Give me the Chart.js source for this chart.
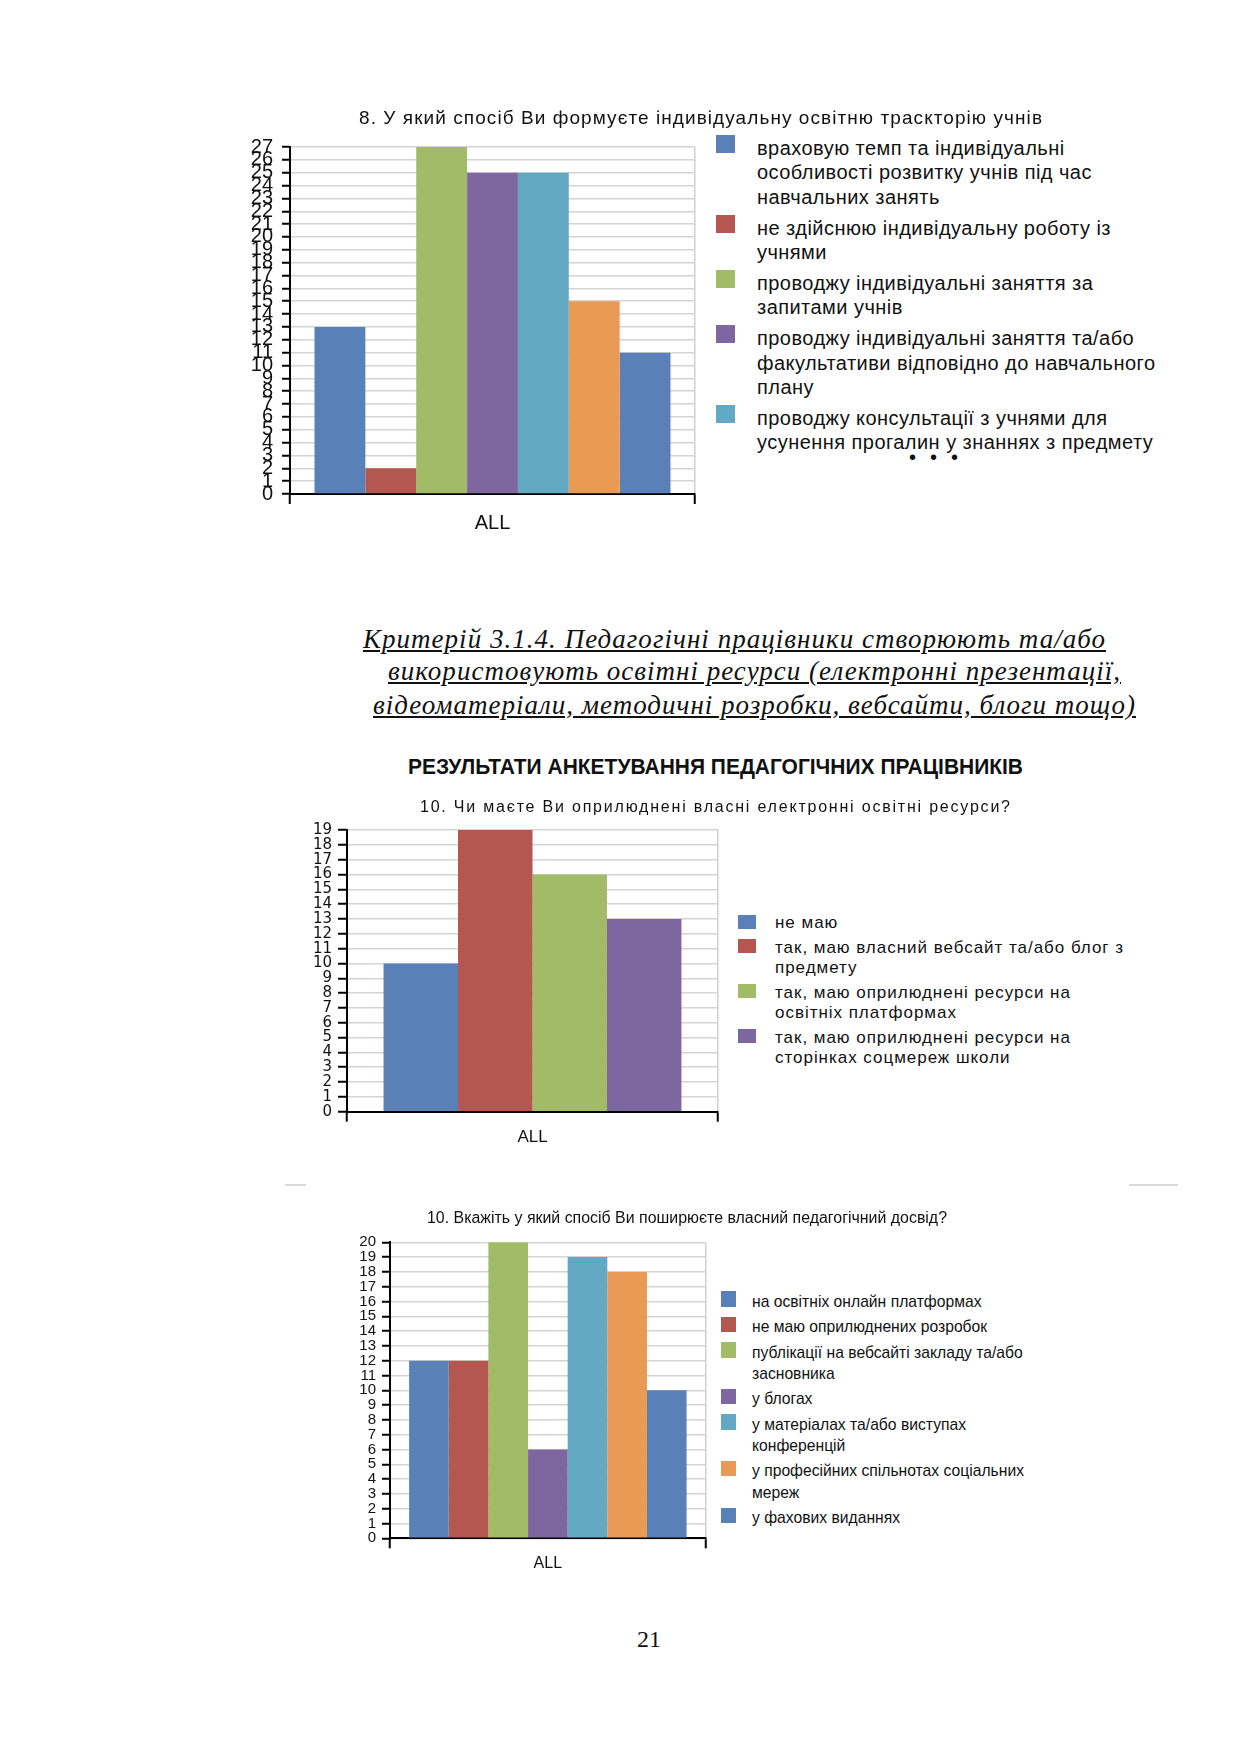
<!DOCTYPE html>
<html lang="uk">
<head>
<meta charset="utf-8">
<title>Результати анкетування педагогічних працівників</title>
<script src="https://cdn.jsdelivr.net/npm/chart.js@4.4.1/dist/chart.umd.min.js"></script>
<style>
  html, body { margin: 0; padding: 0; background: #fff; }
  #page { position: relative; width: 1240px; height: 1754px; overflow: hidden; color: #111; }
  canvas { position: absolute; }
  .t { position: absolute; white-space: nowrap; transform-origin: 0 50%; }
  .sq { position: absolute; }
  .sep { position: absolute; height: 2px; background: #dadada; }
</style>
</head>
<body>
<div id="page">
  <canvas id="c8" width="520" height="414" style="left:190px;top:126px"></canvas>
  <canvas id="c10a" width="486" height="342" style="left:247px;top:810px"></canvas>
  <canvas id="c10b" width="430" height="357" style="left:290px;top:1222px"></canvas>
  <div class="sep" style="left:285px;top:1184px;width:21px"></div>
  <div class="sep" style="left:1129px;top:1184px;width:49px"></div>
</div>
<script>
// colours of the Excel-style palette
var blue = "#5a80b8", red = "#b45750", green = "#a2bb66",
    purple = "#7e66a0", cyan = "#64a9c3", orange = "#e99b55";

var categories = ["ALL"];

// 8. individual learning path
var q8Title = "8. У який спосіб Ви формуєте індивідуальну освітню траскторію учнів";
var q8Labels = [
  "враховую темп та індивідуальні\nособливості розвитку учнів під час\nнавчальних занять",
  "не здійснюю індивідуальну роботу із\nучнями",
  "проводжу індивідуальні заняття за\nзапитами учнів",
  "проводжу індивідуальні заняття та/або\nфакультативи відповідно до навчального\nплану",
  "проводжу консультації з учнями для\nусунення прогалин у знаннях з предмету",
  "",
  ""
];
var q8Values = [13, 2, 27, 25, 25, 15, 11];
var q8Colors = [blue, red, green, purple, cyan, orange, blue];
var q8Max = 27;

// 10. own published e-resources
var q10aTitle = "10. Чи маєте Ви оприлюднені власні електронні освітні ресурси?";
var q10aLabels = [
  "не маю",
  "так, маю власний вебсайт та/або блог з\nпредмету",
  "так, маю оприлюднені ресурси на\nосвітніх платформах",
  "так, маю оприлюднені ресурси на\nсторінках соцмереж школи"
];
var q10aValues = [10, 19, 16, 13];
var q10aColors = [blue, red, green, purple];
var q10aMax = 19;

// 10. sharing experience
var q10bTitle = "10. Вкажіть у який спосіб Ви поширюєте власний педагогічний досвід?";
var q10bLabels = [
  "на освітніх онлайн платформах",
  "не маю оприлюднених розробок",
  "публікації на вебсайті закладу та/або\nзасновника",
  "у блогах",
  "у матеріалах та/або виступах\nконференцій",
  "у професійних спільнотах соціальних\nмереж",
  "у фахових виданнях"
];
var q10bValues = [12, 12, 20, 6, 19, 18, 10];
var q10bColors = [blue, red, green, purple, cyan, orange, blue];
var q10bMax = 20;

var headingLines = [
  "Критерій 3.1.4. Педагогічні працівники створюють та/або",
  "використовують освітні ресурси (електронні презентації,",
  "відеоматеріали, методичні розробки, вебсайти, блоги тощо)"
];
var surveyHeading = "РЕЗУЛЬТАТИ АНКЕТУВАННЯ ПЕДАГОГІЧНИХ ПРАЦІВНИКІВ";
var pageNumber = "21";

Chart.defaults.font.family = "Arial, 'Liberation Sans', sans-serif";
Chart.defaults.color = "#111";

var page = document.getElementById("page");
var mctx = document.createElement("canvas").getContext("2d");

function measure(str, font) {
  mctx.font = font;
  return mctx.measureText(str).width;
}

// how much to space or squeeze a line so it takes width w
function fitTo(str, font, w, mode) {
  var nat = measure(str, font);
  if (mode === "scale") return { sx: w / nat };
  return { ls: (w - nat) / Math.max(1, str.length - 1) };
}

function addText(str, x, cy, font, fit, extra) {
  var el = document.createElement("div");
  el.className = "t";
  el.textContent = str;
  el.style.font = font;
  el.style.lineHeight = "1.2";
  if (fit && fit.ls) el.style.letterSpacing = fit.ls + "px";
  if (fit && fit.sx) el.style.transform = "scaleX(" + fit.sx + ")";
  if (extra) Object.assign(el.style, extra);
  page.appendChild(el);
  var h = el.getBoundingClientRect().height;
  el.style.left = x + "px";
  el.style.top = (cy - h / 2) + "px";
  return el;
}

function addLegend(labels, colors, L) {
  var fit = fitTo(L.ref, L.font, L.refW, L.mode);
  var y = L.y0;
  labels.forEach(function (lab, i) {
    if (!lab) return;
    var sq = document.createElement("div");
    sq.className = "sq";
    sq.style.left = L.sqX + "px";
    sq.style.top = (y + L.sqDy) + "px";
    sq.style.width = L.sqW + "px";
    sq.style.height = L.sqH + "px";
    sq.style.background = colors[i];
    page.appendChild(sq);
    var lines = lab.split("\n");
    lines.forEach(function (ln, j) {
      addText(ln, L.textX, y + j * L.lineH, L.font, fit, { color: "#111" });
    });
    y += lines.length * L.lineH + L.gap;
  });
}

function barChart(id, labels, values, colors, yMax, o) {
  return new Chart(document.getElementById(id), {
    type: "bar",
    data: {
      labels: categories,
      datasets: values.map(function (v, i) {
        return {
          label: labels[i],
          data: [v],
          backgroundColor: colors[i],
          borderWidth: 0,
          barPercentage: 1,
          categoryPercentage: o.cat
        };
      })
    },
    options: {
      responsive: false,
      animation: false,
      events: [],
      layout: { padding: { top: o.padTop, right: o.padRight, bottom: 0, left: 0 } },
      plugins: { legend: { display: false }, tooltip: { enabled: false } },
      scales: {
        x: {
          grid: { color: "#cfcfcf", lineWidth: 1.5, tickColor: "#000", tickWidth: 2, tickLength: 10 },
          border: { color: "#000", width: 2 },
          ticks: { color: "#111", font: { size: o.xFont }, padding: o.xPad },
          afterFit: function (s) { s.height = o.xH; }
        },
        y: {
          min: 0,
          max: yMax,
          grid: { color: "#d4d4d4", lineWidth: 1.5, tickColor: "#000", tickWidth: 2, tickLength: o.tickLen },
          border: { color: "#000", width: 2 },
          ticks: {
            stepSize: 1, autoSkip: false, color: "#111", padding: o.yPad,
            font: { size: o.yFont, family: o.yFamily || Chart.defaults.font.family }
          },
          afterFit: function (s) { s.width = 100; }
        }
      }
    }
  });
}

// ---- text of the page ----
var serif = "'Liberation Serif', 'Times New Roman', serif";
var hFont = "italic 27px " + serif;
[[363, 639, 742], [388, 671, 732], [373, 705, 762]].forEach(function (p, i) {
  addText(headingLines[i], p[0], p[1], hFont, fitTo(headingLines[i], hFont, p[2], "space"),
    { textDecoration: "underline", color: "#111" });
});
var sFont = "bold 22px Arial, 'Liberation Sans', sans-serif";
addText(surveyHeading, 408, 767, sFont, fitTo(surveyHeading, sFont, 615, "scale"), { color: "#111" });
addText(pageNumber, 637, 1639, "24px " + serif, null, { color: "#111" });

var f19 = "19px Arial, 'Liberation Sans', sans-serif";
addText(q8Title, 359, 118, f19, fitTo(q8Title, f19, 683, "space"));
var f16 = "16px Arial, 'Liberation Sans', sans-serif";
addText(q10aTitle, 420, 807, f16, fitTo(q10aTitle, f16, 590, "space"));
addText(q10bTitle, 427, 1218, f16, fitTo(q10bTitle, f16, 520, "scale"));

// ---- legends ----
addLegend(q8Labels, q8Colors, {
  sqX: 716, sqW: 19, sqH: 18, sqDy: -13, textX: 757, y0: 148, lineH: 24.3, gap: 6.7,
  font: "20px Arial, 'Liberation Sans', sans-serif", mode: "space",
  ref: "факультативи відповідно до навчального", refW: 398
});
var dotFont = "20px Arial, 'Liberation Sans', sans-serif";
addText("• • •", 909, 457, dotFont, fitTo("• • •", dotFont, 49, "space"));

addLegend(q10aLabels, q10aColors, {
  sqX: 738, sqW: 18, sqH: 14, sqDy: -9, textX: 775, y0: 923.5, lineH: 20.3, gap: 4.4,
  font: "17px Arial, 'Liberation Sans', sans-serif", mode: "space",
  ref: "так, маю власний вебсайт та/або блог з", refW: 348
});

addLegend(q10bLabels, q10bColors, {
  sqX: 721, sqW: 15, sqH: 15.5, sqDy: -10.7, textX: 752, y0: 1301.7, lineH: 21.2, gap: 4.3,
  font: "17px Arial, 'Liberation Sans', sans-serif", mode: "scale",
  ref: "у професійних спільнотах соціальних", refW: 272
});

// ---- charts ----
barChart("c8", q8Labels, q8Values, q8Colors, q8Max, {
  cat: 0.879, padTop: 20.7, padRight: 15, xH: 46, xFont: 20, xPad: 7,
  yFont: 20, yPad: 9, tickLen: 8
});
barChart("c10a", q10aLabels, q10aValues, q10aColors, q10aMax, {
  cat: 0.803, padTop: 20, padRight: 15, xH: 40.3, xFont: 17, xPad: 5,
  yFont: 15, yPad: 6, tickLen: 9, yFamily: "'DejaVu Sans', sans-serif"
});
barChart("c10b", q10bLabels, q10bValues, q10bColors, q10bMax, {
  cat: 0.879, padTop: 20.3, padRight: 14.3, xH: 40.7, xFont: 16, xPad: 6,
  yFont: 15, yPad: 6, tickLen: 8
});
</script>
</body>
</html>
